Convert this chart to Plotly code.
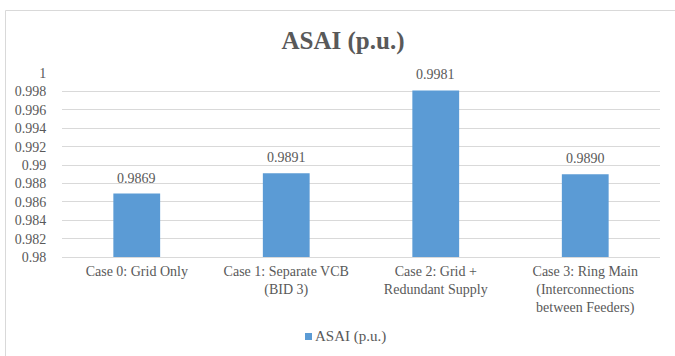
import plotly.graph_objects as go

categories = [
    "Case 0: Grid Only",
    "Case 1: Separate VCB<br>(BID 3)",
    "Case 2: Grid +<br>Redundant Supply",
    "Case 3: Ring Main<br>(Interconnections<br>between Feeders)",
]
asai_values = [0.9869, 0.9891, 0.9981, 0.9890]
series_name = "ASAI (p.u.)"
y_ticks = [0.98, 0.982, 0.984, 0.986, 0.988, 0.99, 0.992, 0.994, 0.996, 0.998, 1.0]
y_tick_labels = ["0.98", "0.982", "0.984", "0.986", "0.988", "0.99",
                 "0.992", "0.994", "0.996", "0.998", "1"]

FONT = "'Liberation Serif', 'Times New Roman', serif"
TEXT = "#595959"
GRID = "#D9D9D9"
BAR = "#5B9BD5"

W, H = 675, 356
L, R, T, B = 62, 15, 73, 99
pw, ph = W - L - R, H - T - B


def px_x(x):
    return (x - L) / pw


def px_y(y):
    return (T + ph - y) / ph


fig = go.Figure(go.Bar(
    x=categories,
    y=asai_values,
    name=series_name,
    marker=dict(color=BAR, line=dict(width=0)),
    showlegend=False,
))

# value labels above each bar, taken from the same data
value_labels = [
    dict(
        x=cat, y=val, xref="x", yref="y",
        text=f"{val:.4f}", showarrow=False,
        xanchor="center", yanchor="bottom", yshift=6,
        font=dict(family=FONT, size=14, color=TEXT),
    )
    for cat, val in zip(categories, asai_values)
]

legend_label = dict(
    text=series_name, xref="paper", yref="paper",
    x=px_x(313), y=px_y(336.5), xanchor="left", yanchor="middle",
    showarrow=False,
    font=dict(family=FONT, size=15, color=TEXT),
)

fig.update_layout(
    width=W, height=H,
    margin=dict(l=L, r=R, t=T, b=B),
    paper_bgcolor="white",
    plot_bgcolor="white",
    bargap=0.687,
    title=dict(
        text="<b>ASAI (p.u.)</b>",
        font=dict(family=FONT, size=25, color=TEXT),
        x=px_x(343), xanchor="center", xref="paper",
        y=1 - 40 / H, yanchor="middle",
    ),
    font=dict(family=FONT, size=14, color=TEXT),
    xaxis=dict(
        showgrid=False,
        showline=True, linecolor=GRID, linewidth=1,
        ticks="outside", ticklen=1, tickcolor="rgba(0,0,0,0)",
        tickfont=dict(family=FONT, size=14, color=TEXT),
    ),
    yaxis=dict(
        range=[0.98, 1.0],
        tickvals=y_ticks,
        ticktext=y_tick_labels,
        showgrid=True, gridcolor=GRID, gridwidth=1,
        zeroline=False, showline=False,
        ticks="outside", ticklen=12, tickcolor="rgba(0,0,0,0)",
        tickfont=dict(family=FONT, size=14, color=TEXT),
    ),
    shapes=[
        # chart frame
        dict(
            type="rect", xref="paper", yref="paper",
            x0=px_x(5.5), x1=px_x(W + 20),
            y0=px_y(H + 20), y1=px_y(10.5),
            line=dict(color=GRID, width=1),
            fillcolor="rgba(0,0,0,0)",
            layer="below",
        ),
        # legend swatch
        dict(
            type="rect", xref="paper", yref="paper",
            x0=px_x(305), x1=px_x(312),
            y0=px_y(340), y1=px_y(333),
            line=dict(width=0),
            fillcolor=BAR,
        ),
    ],
    annotations=value_labels + [legend_label],
)

fig.write_html("out.html")
